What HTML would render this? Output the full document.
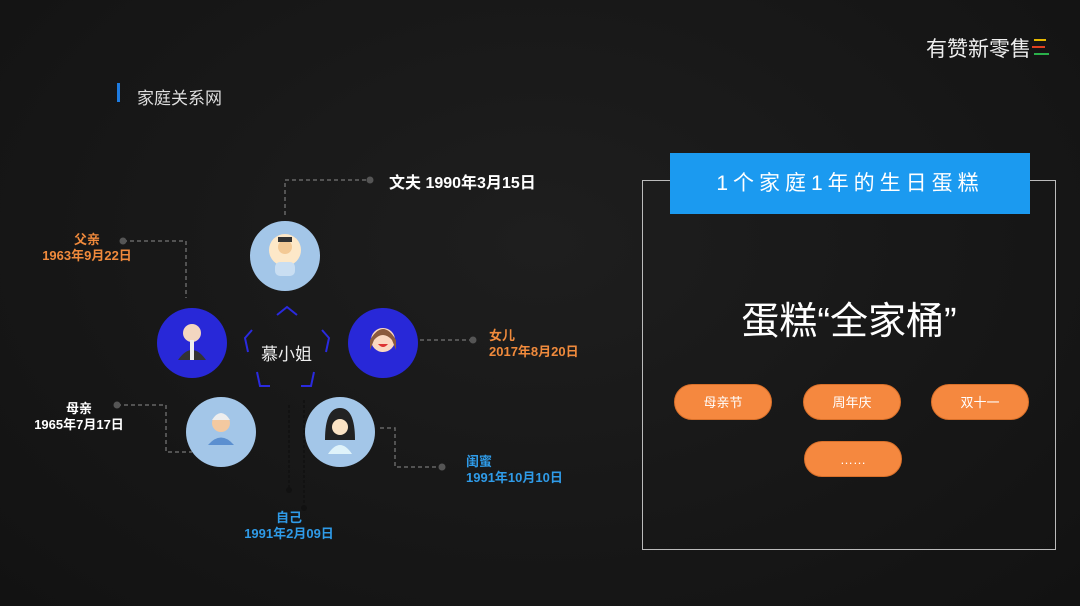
<!DOCTYPE html>
<html><head><meta charset="utf-8"><style>
*{margin:0;padding:0}
body{width:1080px;height:606px;overflow:hidden;background:radial-gradient(ellipse at 50% 40%,#1e1e1e,#121212);font-family:"Liberation Sans","Noto Sans CJK SC",sans-serif;position:relative;color:#fff}
.a{position:absolute;white-space:nowrap}
.b{font-weight:bold;font-size:13px;line-height:16px}
.pill{position:absolute;width:98px;height:36px;border-radius:18px;background:#f5883f;border:1px solid #d9702a;color:#fff;font-size:13px;text-align:center;line-height:36px;box-sizing:border-box}
</style></head><body>
<div class="a" style="left:926px;top:33px;font-size:21px;color:#eee">有赞新零售</div>
<div class="a" style="left:1034px;top:39px;width:12px;height:2px;background:#e6b800"></div>
<div class="a" style="left:1032px;top:46px;width:13px;height:2px;background:#e04020"></div>
<div class="a" style="left:1034px;top:53px;width:15px;height:2px;background:#2ab04a"></div>
<div class="a" style="left:117px;top:83px;width:3px;height:19px;background:#1e7be0"></div>
<div class="a" style="left:137px;top:84px;font-size:17px;color:#ddd">家庭关系网</div>

<svg class="a" style="left:0;top:0" width="1080" height="606">
<g stroke="#666" stroke-width="1.5" stroke-dasharray="4,3" fill="none">
<polyline points="285,215 285,180 370,180"/>
<polyline points="123,241 186,241 186,298"/>
<polyline points="420,340 473,340"/>
<polyline points="117,405 166,405 166,452 192,452"/>
<polyline points="380,428 395,428 395,467 442,467"/>
</g>
<g stroke="#111" stroke-width="1.5" stroke-dasharray="3,2"><line x1="289" y1="405" x2="289" y2="490"/><line x1="304" y1="400" x2="304" y2="508"/></g>
<g fill="#555"><circle cx="370" cy="180" r="3.5"/><circle cx="123" cy="241" r="3.5"/><circle cx="473" cy="340" r="3.5"/><circle cx="117" cy="405" r="3.5"/><circle cx="442" cy="467" r="3.5"/></g>
<g fill="#111"><circle cx="289" cy="490" r="3"/><circle cx="304" cy="508" r="3"/></g>
<circle cx="285" cy="256" r="35" fill="#a3c6e8"/>
<circle cx="192" cy="343" r="35" fill="#2828d8"/>
<circle cx="383" cy="343" r="35" fill="#2828d8"/>
<circle cx="221" cy="432" r="35" fill="#a3c6e8"/>
<circle cx="340" cy="432" r="35" fill="#a3c6e8"/>
<circle cx="285" cy="250" r="16" fill="#fde8c8"/><rect x="275" y="262" width="20" height="14" rx="5" fill="#c9def2"/><circle cx="285" cy="247" r="7" fill="#f3c995"/><rect x="278" y="237" width="14" height="5" fill="#333"/>
<circle cx="192" cy="333" r="9" fill="#f3d6c0"/><path d="M178 360 Q192 340 206 360Z" fill="#333"/><rect x="190" y="340" width="4" height="20" fill="#eee"/>
<circle cx="383" cy="340" r="12" fill="#fbd8c0"/><path d="M370 340 Q383 318 396 340 L396 350 L392 340 Q383 330 374 340 L370 350Z" fill="#8b5a3c"/><path d="M378 344 Q383 350 388 344Z" fill="#d33"/>
<circle cx="221" cy="423" r="9" fill="#f3c9a0"/><path d="M212 420 Q221 406 230 420Z" fill="#eee"/><path d="M208 445 Q221 430 234 445Z" fill="#5b8fd0"/>
<path d="M325 440 Q325 408 340 408 Q355 408 355 440Z" fill="#222"/><circle cx="340" cy="427" r="8" fill="#fbe3c4"/><path d="M328 454 Q340 436 352 454Z" fill="#dff3fa"/>
<g stroke="#2a2adf" stroke-width="2" fill="none">
<polyline points="277,315 287,307 297,315"/>
<polyline points="252,330 245,338 248,352"/>
<polyline points="322,330 329,338 326,352"/>
<polyline points="257,372 260,386 270,386"/>
<polyline points="314,372 311,386 301,386"/>
</g>
</svg>
<div class="a" style="left:261px;top:340px;font-size:17px;color:#eee">慕小姐</div>
<div class="a" style="left:389px;top:169px;font-size:16px;font-weight:bold;color:#fff">文夫 1990年3月15日</div>
<div class="a b" style="left:38px;top:232px;color:#f08a3c;text-align:center;width:98px">父亲<br>1963年9月22日</div>
<div class="a b" style="left:489px;top:328px;color:#f08a3c">女儿<br>2017年8月20日</div>
<div class="a b" style="left:30px;top:401px;color:#fff;text-align:center;width:98px">母亲<br>1965年7月17日</div>
<div class="a b" style="left:466px;top:454px;color:#2f9be8">闺蜜<br>1991年10月10日</div>
<div class="a b" style="left:240px;top:510px;color:#2f9be8;text-align:center;width:98px">自己<br>1991年2月09日</div>

<div class="a" style="left:642px;top:180px;width:412px;height:368px;border:1.5px solid #bbb"></div>
<div class="a" style="left:670px;top:153px;width:360px;height:61px;background:#1b9af0;color:#fff;font-size:21px;line-height:61px;text-align:center;letter-spacing:5px">1个家庭1年的生日蛋糕</div>
<div class="a" style="left:642px;top:290px;width:414px;text-align:center;font-size:38px;color:#fff">蛋糕“全家桶”</div>
<div class="pill" style="left:674px;top:384px">母亲节</div>
<div class="pill" style="left:803px;top:384px">周年庆</div>
<div class="pill" style="left:931px;top:384px">双十一</div>
<div class="pill" style="left:804px;top:441px">……</div>
</body></html>
